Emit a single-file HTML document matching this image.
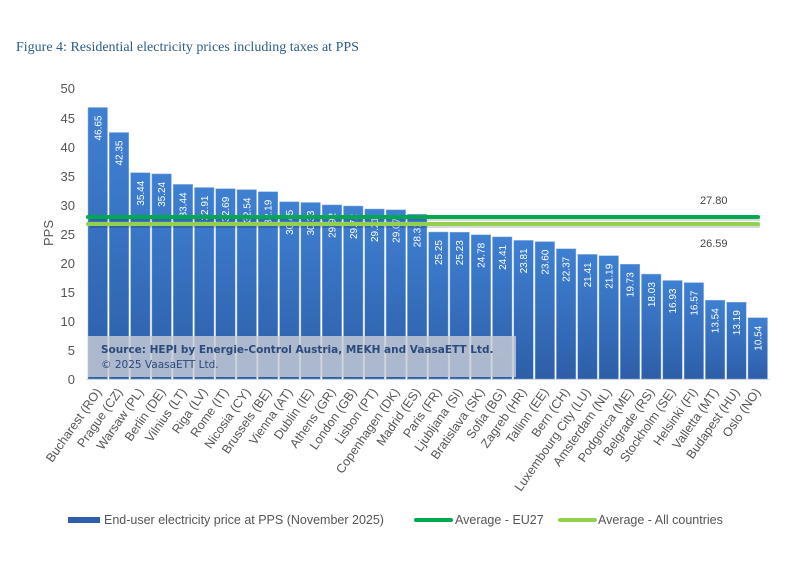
<!DOCTYPE html>
<html><head><meta charset="utf-8"><style>body{margin:0;background:#fff}svg{display:block}</style></head><body>
<svg width="792" height="566" viewBox="0 0 792 566" xmlns="http://www.w3.org/2000/svg">
<defs><linearGradient id="g" x1="0" y1="0" x2="0" y2="1"><stop offset="0" stop-color="#3f80d2"/><stop offset="1" stop-color="#2d5ea8"/></linearGradient></defs>
<text x="16" y="51" font-family="Liberation Serif, serif" font-size="14" fill="#2e5c8a">Figure 4: Residential electricity prices including taxes at PPS</text>
<g font-family="Liberation Sans, sans-serif" font-size="13" fill="#555" text-anchor="end">
<text x="75" y="384">0</text><text x="75" y="355">5</text><text x="75" y="326">10</text><text x="75" y="297">15</text><text x="75" y="268">20</text><text x="75" y="239">25</text><text x="75" y="210">30</text><text x="75" y="181">35</text><text x="75" y="152">40</text><text x="75" y="123">45</text><text x="75" y="93">50</text>
</g>
<text transform="translate(53,233) rotate(-90)" font-family="Liberation Sans, sans-serif" font-size="13" fill="#555" text-anchor="middle">PPS</text>
<line x1="86" y1="379.5" x2="770" y2="379.5" stroke="#ddd" stroke-width="1"/>
<g fill="url(#g)" stroke="#8fb3e0" stroke-width="0.5">
<rect x="88.0" y="107.5" width="19.5" height="271.5"/><rect x="109.3" y="132.5" width="19.5" height="246.5"/><rect x="130.6" y="172.7" width="19.5" height="206.3"/><rect x="151.9" y="173.9" width="19.5" height="205.1"/><rect x="173.2" y="184.4" width="19.5" height="194.6"/><rect x="194.5" y="187.5" width="19.5" height="191.5"/><rect x="215.7" y="188.7" width="19.5" height="190.3"/><rect x="237.0" y="189.6" width="19.5" height="189.4"/><rect x="258.3" y="191.7" width="19.5" height="187.3"/><rect x="279.6" y="201.8" width="19.5" height="177.2"/><rect x="300.9" y="202.5" width="19.5" height="176.5"/><rect x="322.2" y="204.9" width="19.5" height="174.1"/><rect x="343.5" y="206.0" width="19.5" height="173.0"/><rect x="364.8" y="209.0" width="19.5" height="170.0"/><rect x="386.1" y="209.8" width="19.5" height="169.2"/><rect x="407.4" y="214.2" width="19.5" height="164.8"/><rect x="428.6" y="232.0" width="19.5" height="147.0"/><rect x="449.9" y="232.2" width="19.5" height="146.8"/><rect x="471.2" y="234.8" width="19.5" height="144.2"/><rect x="492.5" y="236.9" width="19.5" height="142.1"/><rect x="513.8" y="240.4" width="19.5" height="138.6"/><rect x="535.1" y="241.6" width="19.5" height="137.4"/><rect x="556.4" y="248.8" width="19.5" height="130.2"/><rect x="577.7" y="254.4" width="19.5" height="124.6"/><rect x="599.0" y="255.7" width="19.5" height="123.3"/><rect x="620.3" y="264.2" width="19.5" height="114.8"/><rect x="641.5" y="274.1" width="19.5" height="104.9"/><rect x="662.8" y="280.5" width="19.5" height="98.5"/><rect x="684.1" y="282.6" width="19.5" height="96.4"/><rect x="705.4" y="300.2" width="19.5" height="78.8"/><rect x="726.7" y="302.2" width="19.5" height="76.8"/><rect x="748.0" y="317.7" width="19.5" height="61.3"/>
</g>
<g font-family="Liberation Sans, sans-serif" font-size="10" fill="#fff" text-anchor="end">
<text transform="translate(101.3,115.5) rotate(-90)">46.65</text><text transform="translate(122.6,140.5) rotate(-90)">42.35</text><text transform="translate(143.9,180.7) rotate(-90)">35.44</text><text transform="translate(165.2,181.9) rotate(-90)">35.24</text><text transform="translate(186.5,192.4) rotate(-90)">33.44</text><text transform="translate(207.8,195.5) rotate(-90)">32.91</text><text transform="translate(229.0,196.7) rotate(-90)">32.69</text><text transform="translate(250.3,197.6) rotate(-90)">32.54</text><text transform="translate(271.6,199.7) rotate(-90)">32.19</text><text transform="translate(292.9,209.8) rotate(-90)">30.45</text><text transform="translate(314.2,210.5) rotate(-90)">30.33</text><text transform="translate(335.5,212.9) rotate(-90)">29.92</text><text transform="translate(356.8,214.0) rotate(-90)">29.72</text><text transform="translate(378.1,217.0) rotate(-90)">29.21</text><text transform="translate(399.4,217.8) rotate(-90)">29.07</text><text transform="translate(420.7,222.2) rotate(-90)">28.31</text><text transform="translate(441.9,240.0) rotate(-90)">25.25</text><text transform="translate(463.2,240.2) rotate(-90)">25.23</text><text transform="translate(484.5,242.8) rotate(-90)">24.78</text><text transform="translate(505.8,244.9) rotate(-90)">24.41</text><text transform="translate(527.1,248.4) rotate(-90)">23.81</text><text transform="translate(548.4,249.6) rotate(-90)">23.60</text><text transform="translate(569.7,256.8) rotate(-90)">22.37</text><text transform="translate(591.0,262.4) rotate(-90)">21.41</text><text transform="translate(612.3,263.7) rotate(-90)">21.19</text><text transform="translate(633.6,272.2) rotate(-90)">19.73</text><text transform="translate(654.8,282.1) rotate(-90)">18.03</text><text transform="translate(676.1,288.5) rotate(-90)">16.93</text><text transform="translate(697.4,290.6) rotate(-90)">16.57</text><text transform="translate(718.7,308.2) rotate(-90)">13.54</text><text transform="translate(740.0,310.2) rotate(-90)">13.19</text><text transform="translate(761.3,325.7) rotate(-90)">10.54</text>
</g>
<line x1="90" y1="219" x2="760" y2="219" stroke="#000" stroke-opacity="0.15" stroke-width="4"/>
<line x1="90" y1="226" x2="760" y2="226" stroke="#000" stroke-opacity="0.15" stroke-width="4"/>
<line x1="88" y1="217" x2="758" y2="217" stroke="#00a84f" stroke-width="4" stroke-linecap="round"/>
<line x1="88" y1="224" x2="758" y2="224" stroke="#92d050" stroke-width="4" stroke-linecap="round"/>
<g font-family="Liberation Sans, sans-serif" font-size="11" fill="#444"><text x="700" y="204">27.80</text><text x="700" y="247">26.59</text></g>
<rect x="88" y="336" width="428" height="41" fill="#c8ccd4" fill-opacity="0.82"/>
<text x="101" y="353" font-family="DejaVu Sans, sans-serif" font-size="10.5" font-weight="bold" fill="#2b4a7c">Source: HEPI by Energie-Control Austria, MEKH and VaasaETT Ltd.</text>
<text x="101" y="368" font-family="DejaVu Sans, sans-serif" font-size="10.5" fill="#2b4a7c">© 2025 VaasaETT Ltd.</text>
<g font-family="Liberation Sans, sans-serif" font-size="12.5" fill="#555" text-anchor="end">
<text transform="translate(102,392) rotate(-55)">Bucharest (RO)</text><text transform="translate(123,392) rotate(-55)">Prague (CZ)</text><text transform="translate(144,392) rotate(-55)">Warsaw (PL)</text><text transform="translate(166,392) rotate(-55)">Berlin (DE)</text><text transform="translate(187,392) rotate(-55)">Vilnius (LT)</text><text transform="translate(208,392) rotate(-55)">Riga (LV)</text><text transform="translate(229,392) rotate(-55)">Rome (IT)</text><text transform="translate(251,392) rotate(-55)">Nicosia (CY)</text><text transform="translate(272,392) rotate(-55)">Brussels (BE)</text><text transform="translate(293,392) rotate(-55)">Vienna (AT)</text><text transform="translate(314,392) rotate(-55)">Dublin (IE)</text><text transform="translate(336,392) rotate(-55)">Athens (GR)</text><text transform="translate(357,392) rotate(-55)">London (GB)</text><text transform="translate(378,392) rotate(-55)">Lisbon (PT)</text><text transform="translate(400,392) rotate(-55)">Copenhagen (DK)</text><text transform="translate(421,392) rotate(-55)">Madrid (ES)</text><text transform="translate(442,392) rotate(-55)">Paris (FR)</text><text transform="translate(463,392) rotate(-55)">Ljubljana (SI)</text><text transform="translate(485,392) rotate(-55)">Bratislava (SK)</text><text transform="translate(506,392) rotate(-55)">Sofia (BG)</text><text transform="translate(527,392) rotate(-55)">Zagreb (HR)</text><text transform="translate(549,392) rotate(-55)">Tallinn (EE)</text><text transform="translate(570,392) rotate(-55)">Bern (CH)</text><text transform="translate(591,392) rotate(-55)">Luxembourg City (LU)</text><text transform="translate(612,392) rotate(-55)">Amsterdam (NL)</text><text transform="translate(634,392) rotate(-55)">Podgorica (ME)</text><text transform="translate(655,392) rotate(-55)">Belgrade (RS)</text><text transform="translate(676,392) rotate(-55)">Stockholm (SE)</text><text transform="translate(698,392) rotate(-55)">Helsinki (FI)</text><text transform="translate(719,392) rotate(-55)">Valletta (MT)</text><text transform="translate(740,392) rotate(-55)">Budapest (HU)</text><text transform="translate(761,392) rotate(-55)">Oslo (NO)</text>
</g>
<rect x="68" y="517" width="32" height="6" fill="#2e5fa8"/>
<line x1="416" y1="520" x2="451" y2="520" stroke="#00a84f" stroke-width="4" stroke-linecap="round"/>
<line x1="560" y1="520" x2="595" y2="520" stroke="#92d050" stroke-width="4" stroke-linecap="round"/>
<g font-family="Liberation Sans, sans-serif" font-size="12.5" fill="#555">
<text x="104" y="524">End-user electricity price at PPS (November 2025)</text>
<text x="455" y="524">Average - EU27</text>
<text x="598" y="524">Average - All countries</text>
</g>
</svg>
</body></html>
